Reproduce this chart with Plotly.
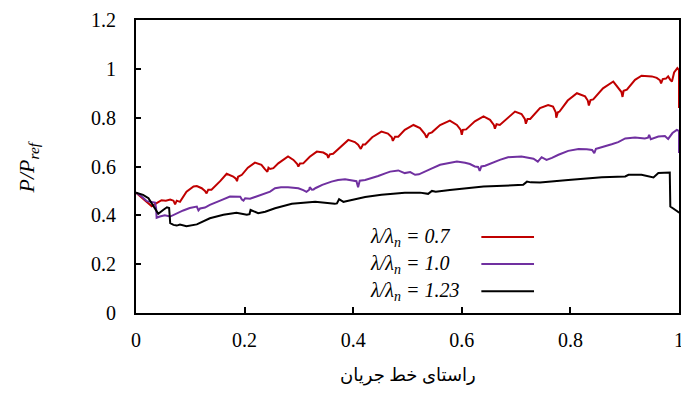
import plotly.graph_objects as go

# Normalised position along the streamline and P/P_ref for each wavelength ratio
x_07 = [0.000, 0.009, 0.018, 0.029, 0.038, 0.047, 0.055, 0.063, 0.069, 0.072, 0.075, 0.081,
        0.093, 0.106, 0.112, 0.121, 0.127, 0.130, 0.133, 0.139, 0.155, 0.167, 0.179, 0.184,
        0.186, 0.188, 0.195, 0.206, 0.219, 0.231, 0.237, 0.242, 0.244, 0.247, 0.253, 0.262,
        0.280, 0.290, 0.297, 0.299, 0.302, 0.308, 0.320, 0.333, 0.345, 0.352, 0.354, 0.357,
        0.363, 0.376, 0.391, 0.403, 0.409, 0.414, 0.418, 0.422, 0.435, 0.452, 0.464, 0.471,
        0.473, 0.477, 0.483, 0.495, 0.511, 0.523, 0.532, 0.535, 0.539, 0.545, 0.560, 0.578,
        0.591, 0.598, 0.600, 0.602, 0.608, 0.624, 0.640, 0.652, 0.659, 0.661, 0.664, 0.670,
        0.685, 0.698, 0.710, 0.716, 0.718, 0.721, 0.726, 0.744, 0.759, 0.768, 0.773, 0.774,
        0.777, 0.780, 0.795, 0.812, 0.827, 0.832, 0.834, 0.837, 0.842, 0.860, 0.879, 0.888,
        0.894, 0.896, 0.898, 0.904, 0.919, 0.931, 0.950, 0.959, 0.965, 0.967, 0.970, 0.976,
        0.980, 0.984, 0.987, 0.991, 0.997, 1.000, 1.000]
p_07 = [0.493, 0.475, 0.455, 0.437, 0.450, 0.462, 0.460, 0.465, 0.460, 0.445, 0.460, 0.455,
        0.497, 0.518, 0.520, 0.511, 0.500, 0.490, 0.505, 0.505, 0.540, 0.570, 0.559, 0.550,
        0.540, 0.558, 0.566, 0.595, 0.616, 0.607, 0.590, 0.578, 0.595, 0.590, 0.593, 0.613,
        0.641, 0.627, 0.610, 0.600, 0.612, 0.613, 0.640, 0.661, 0.657, 0.648, 0.635, 0.650,
        0.652, 0.680, 0.709, 0.700, 0.689, 0.672, 0.690, 0.690, 0.720, 0.743, 0.735, 0.720,
        0.705, 0.722, 0.722, 0.750, 0.770, 0.757, 0.733, 0.718, 0.735, 0.740, 0.770, 0.788,
        0.770, 0.750, 0.730, 0.750, 0.752, 0.785, 0.805, 0.791, 0.770, 0.755, 0.773, 0.770,
        0.800, 0.825, 0.815, 0.795, 0.775, 0.795, 0.795, 0.839, 0.852, 0.845, 0.822, 0.800,
        0.822, 0.825, 0.870, 0.900, 0.887, 0.870, 0.850, 0.872, 0.875, 0.920, 0.948, 0.925,
        0.905, 0.885, 0.910, 0.915, 0.955, 0.972, 0.969, 0.963, 0.953, 0.940, 0.958, 0.960,
        0.969, 0.955, 0.948, 0.985, 1.003, 0.995, 0.840]

x_10 = [0.000, 0.009, 0.020, 0.028, 0.035, 0.037, 0.038, 0.044, 0.053, 0.063, 0.075, 0.087,
        0.099, 0.112, 0.115, 0.118, 0.127, 0.136, 0.155, 0.173, 0.192, 0.195, 0.198, 0.201,
        0.210, 0.222, 0.234, 0.247, 0.256, 0.267, 0.280, 0.291, 0.299, 0.308, 0.314, 0.319,
        0.320, 0.324, 0.327, 0.331, 0.343, 0.360, 0.372, 0.385, 0.400, 0.406, 0.409, 0.412,
        0.422, 0.435, 0.446, 0.459, 0.468, 0.483, 0.495, 0.505, 0.514, 0.521, 0.529, 0.543,
        0.560, 0.575, 0.591, 0.606, 0.615, 0.624, 0.630, 0.633, 0.636, 0.643, 0.656, 0.670,
        0.685, 0.710, 0.732, 0.740, 0.747, 0.756, 0.766, 0.778, 0.796, 0.815, 0.830, 0.840,
        0.844, 0.847, 0.851, 0.864, 0.876, 0.888, 0.901, 0.919, 0.937, 0.943, 0.945, 0.948,
        0.956, 0.962, 0.974, 0.980, 0.988, 0.996, 0.998, 1.000, 1.000]
p_10 = [0.493, 0.480, 0.458, 0.455, 0.452, 0.430, 0.390, 0.395, 0.400, 0.395, 0.409, 0.420,
        0.430, 0.436, 0.420, 0.428, 0.432, 0.443, 0.460, 0.477, 0.476, 0.465, 0.460, 0.470,
        0.468, 0.477, 0.485, 0.497, 0.511, 0.515, 0.515, 0.513, 0.511, 0.503, 0.496, 0.505,
        0.515, 0.505, 0.506, 0.512, 0.525, 0.538, 0.545, 0.548, 0.544, 0.540, 0.515, 0.542,
        0.545, 0.553, 0.561, 0.572, 0.579, 0.584, 0.573, 0.577, 0.566, 0.568, 0.575, 0.590,
        0.607, 0.614, 0.620, 0.615, 0.610, 0.600, 0.598, 0.582, 0.600, 0.603, 0.615, 0.627,
        0.638, 0.641, 0.632, 0.620, 0.638, 0.627, 0.635, 0.648, 0.664, 0.672, 0.671, 0.668,
        0.655, 0.672, 0.675, 0.682, 0.691, 0.700, 0.715, 0.719, 0.715, 0.718, 0.730, 0.712,
        0.720, 0.723, 0.725, 0.713, 0.737, 0.750, 0.748, 0.745, 0.655]

x_123 = [0.000, 0.013, 0.023, 0.032, 0.041, 0.050, 0.057, 0.061, 0.062, 0.063, 0.069, 0.075,
         0.081, 0.093, 0.112, 0.136, 0.161, 0.185, 0.204, 0.209, 0.211, 0.225, 0.238, 0.247,
         0.256, 0.287, 0.330, 0.366, 0.370, 0.374, 0.382, 0.385, 0.422, 0.452, 0.495, 0.523,
         0.538, 0.545, 0.552, 0.578, 0.640, 0.713, 0.720, 0.727, 0.744, 0.796, 0.858, 0.901,
         0.907, 0.931, 0.953, 0.962, 0.980, 0.983, 0.984, 0.989, 0.998, 1.000]
p_123 = [0.493, 0.484, 0.470, 0.436, 0.406, 0.422, 0.433, 0.430, 0.400, 0.368, 0.361, 0.358,
         0.362, 0.355, 0.363, 0.388, 0.402, 0.411, 0.402, 0.405, 0.422, 0.409, 0.415, 0.422,
         0.429, 0.447, 0.456, 0.447, 0.449, 0.466, 0.455, 0.457, 0.475, 0.484, 0.493, 0.493,
         0.488, 0.500, 0.497, 0.504, 0.518, 0.525, 0.538, 0.535, 0.534, 0.545, 0.556, 0.559,
         0.566, 0.566, 0.555, 0.573, 0.577, 0.575, 0.436, 0.429, 0.415, 0.410]

series_labels = ["0.7", "1.0", "1.23"]
series_colors = ["#C00000", "#7030A0", "#000000"]
x_ticks = [0, 0.2, 0.4, 0.6, 0.8, 1]
x_tick_text = ["0", "0.2", "0.4", "0.6", "0.8", "1"]
y_ticks = [0, 0.2, 0.4, 0.6, 0.8, 1.0, 1.2]
y_tick_text = ["0", "0.2", "0.4", "0.6", "0.8", "1", "1.2"]

SERIF = "Liberation Serif, Times New Roman, DejaVu Sans, serif"

fig = go.Figure()
for xs, ys, lab, col in zip([x_07, x_10, x_123], [p_07, p_10, p_123], series_labels, series_colors):
    fig.add_trace(go.Scatter(x=xs, y=ys, mode="lines", name=lab,
                             line=dict(color=col, width=2), showlegend=False))

# Legend drawn as left-aligned labels followed by short line samples
legend_y = [0.259, 0.167, 0.074]
for ly, lab, col in zip(legend_y, series_labels, series_colors):
    fig.add_annotation(xref="paper", yref="paper", x=0.427, y=ly, xanchor="left",
                       yanchor="middle", showarrow=False,
                       text="<i>λ/λ<sub>n</sub> = " + lab + "</i>",
                       font=dict(family=SERIF, size=20, color="#000"))
    fig.add_shape(type="line", xref="paper", yref="paper", x0=0.636, x1=0.733,
                  y0=ly, y1=ly, line=dict(color=col, width=2))

# Rotated y-axis title
fig.add_annotation(xref="paper", yref="paper", x=-0.199, y=0.5, xanchor="center",
                   yanchor="middle", showarrow=False, textangle=-90,
                   text="<i>P/P<sub>ref</sub></i>",
                   font=dict(family=SERIF, size=22, color="#000"))

# x-axis title below the tick labels
fig.add_annotation(xref="paper", yref="paper", x=0.5, y=-0.215, xanchor="center",
                   yanchor="middle", showarrow=False,
                   text="راستای خط جریان",
                   font=dict(family=SERIF, size=18, color="#000"))

fig.update_layout(
    width=681, height=394,
    margin=dict(l=136, r=2, t=20, b=81, autoexpand=False),
    paper_bgcolor="white", plot_bgcolor="white",
    font=dict(family=SERIF, size=20, color="#000"),
    xaxis=dict(range=[0, 1], tickvals=x_ticks, ticktext=x_tick_text,
               ticks="inside", ticklen=6, tickwidth=2, tickcolor="#000",
               ticklabelstandoff=8, ticklabeloverflow="allow", automargin=False,
               showline=True, linewidth=2, linecolor="#000", mirror=True,
               showgrid=False, zeroline=False),
    yaxis=dict(range=[0, 1.2], tickvals=y_ticks, ticktext=y_tick_text,
               ticks="inside", ticklen=5, tickwidth=2, tickcolor="#000",
               ticklabelstandoff=14, ticklabeloverflow="allow", automargin=False,
               showline=True, linewidth=2, linecolor="#000", mirror=True,
               showgrid=False, zeroline=False),
)

fig.write_html("out.html")
